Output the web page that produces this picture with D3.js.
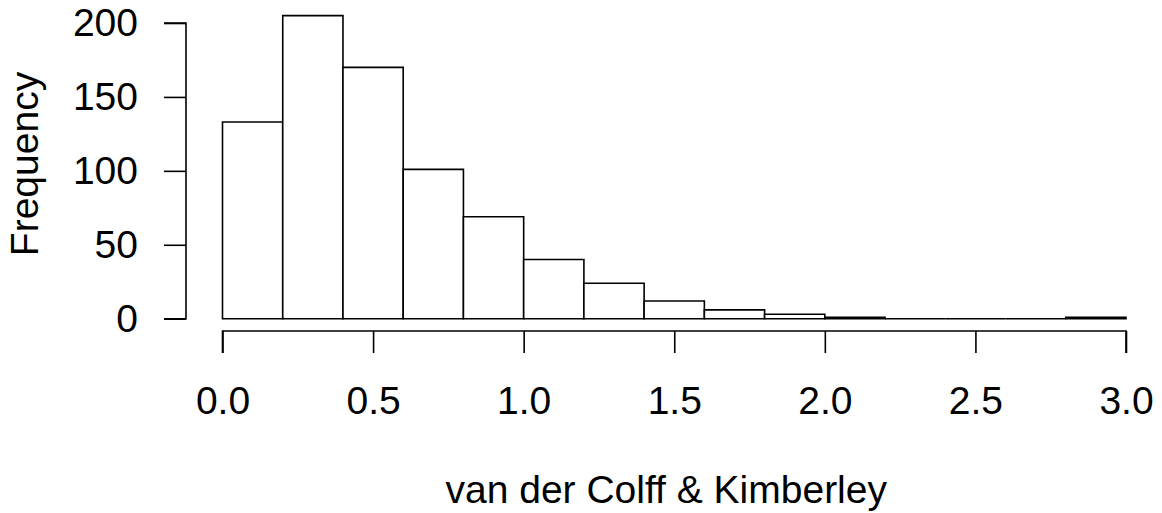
<!DOCTYPE html>
<html>
<head>
<meta charset="utf-8">
<script src="https://cdn.jsdelivr.net/npm/d3@7"></script>
<style>
  html, body { margin: 0; padding: 0; background: #fff; }
  svg text { font-family: "Liberation Sans", Arial, Helvetica, sans-serif; fill: #000; }
</style>
</head>
<body>
<svg id="chart" width="1162" height="513"></svg>
<script>
// Histogram bins (lower edges), counts, tick labels
const binStarts = [0.0, 0.2, 0.4, 0.6, 0.8, 1.0, 1.2, 1.4, 1.6, 1.8, 2.0, 2.2, 2.4, 2.6, 2.8];
const binWidth = 0.2;
const counts = [133, 205, 170, 101, 69, 40, 24, 12, 6, 3, 1, 0, 0, 0, 1];
const xTicks = [0.0, 0.5, 1.0, 1.5, 2.0, 2.5, 3.0];
const yTicks = [0, 50, 100, 150, 200];
const xLabel = "van der Colff & Kimberley";
const yLabel = "Frequency";

const svg = d3.select("#chart");
const x = d3.scaleLinear().domain([0, 3]).range([222.5, 1126]);
const y = d3.scaleLinear().domain([0, 200]).range([318.7, 23]);
const fontSize = 39;

// Bars (paths so zero-height bins still show a line)
svg.append("g")
  .selectAll("path")
  .data(binStarts.map((s, i) => ({ s, c: counts[i] })))
  .join("path")
  .attr("d", d => {
    const x0 = x(d.s), x1 = x(d.s + binWidth), y0 = y(0), y1 = y(d.c);
    return `M${x0},${y0}V${y1}H${x1}V${y0}Z`;
  })
  .attr("fill", "#fff")
  .attr("stroke", "#000")
  .attr("stroke-width", 1.6);

// X axis
const xAxis = svg.append("g").attr("transform", "translate(0,331)")
  .call(d3.axisBottom(x).tickValues(xTicks).tickFormat(d3.format(".1f")).tickSize(22).tickPadding(33));
xAxis.select(".domain").attr("d", `M${x(0)},22V0H${x(3)}V22`).attr("stroke-width", 1.6);
xAxis.selectAll(".tick line").attr("stroke-width", 1.6);

// Y axis
const yAxis = svg.append("g").attr("transform", "translate(186,0)")
  .call(d3.axisLeft(y).tickValues(yTicks).tickSize(22).tickPadding(26));
yAxis.select(".domain").attr("d", `M-22,${y(0)}H0V${y(200)}H-22`).attr("stroke-width", 1.6);
yAxis.selectAll(".tick line").attr("stroke-width", 1.6);

svg.selectAll("g").attr("font-family", null).attr("font-size", null);
svg.selectAll(".tick text").style("font-size", fontSize + "px").style("fill", "#000");

// Axis titles
svg.append("text")
  .attr("x", (x(0) + x(3)) / 2 - 8).attr("y", 503)
  .attr("text-anchor", "middle")
  .style("font-size", fontSize + "px")
  .text(xLabel);

svg.append("text")
  .attr("transform", `translate(38,164) rotate(-90)`)
  .attr("text-anchor", "middle")
  .style("font-size", fontSize + "px")
  .text(yLabel);
</script>
</body>
</html>
